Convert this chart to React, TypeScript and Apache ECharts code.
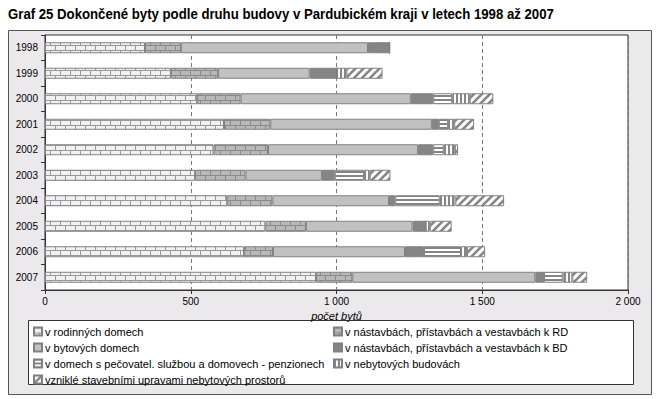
import React, { useEffect, useRef } from "react";
import * as echarts from "echarts";

const years = ["1998", "1999", "2000", "2001", "2002", "2003", "2004", "2005", "2006", "2007"];
const rodinne = [343, 432, 522, 614, 578, 515, 625, 756, 683, 930];
const nastavbyRD = [123, 162, 149, 159, 187, 173, 155, 139, 99, 124];
const bytove = [642, 314, 584, 554, 515, 262, 400, 366, 453, 628];
const nastavbyBD = [74, 94, 77, 24, 52, 44, 22, 45, 65, 30];
const pecovatel = [0, 0, 65, 32, 36, 100, 152, 0, 127, 64];
const nebytove = [0, 32, 60, 21, 38, 20, 54, 14, 21, 33];
const upravy = [0, 124, 81, 68, 11, 71, 167, 75, 62, 51];

const seriesNames = [
  "v rodinných domech",
  "v nástavbách, přístavbách a vestavbách k RD",
  "v bytových domech",
  "v nástavbách, přístavbách a vestavbách k BD",
  "v domech s pečovatel. službou a domovech - penzionech",
  "v nebytových budovách",
  "vzniklé stavebními upravami nebytových prostorů",
];

function makeCanvas(w: number, h: number, draw: (ctx: CanvasRenderingContext2D) => void) {
  const c = document.createElement("canvas");
  c.width = w;
  c.height = h;
  const ctx = c.getContext("2d")!;
  draw(ctx);
  return c;
}

function brick(bg: string, line: string) {
  const c = makeCanvas(10, 10, (ctx) => {
    ctx.fillStyle = bg;
    ctx.fillRect(0, 0, 10, 10);
    ctx.fillStyle = line;
    ctx.fillRect(0, 0, 10, 1);
    ctx.fillRect(0, 5, 10, 1);
    ctx.fillRect(0, 0, 1, 5);
    ctx.fillRect(5, 5, 1, 5);
  });
  return { image: c, repeat: "repeat", imageWidth: 10, imageHeight: 10 } as any;
}

function hStripes() {
  const c = makeCanvas(4, 4, (ctx) => {
    ctx.fillStyle = "#858585";
    ctx.fillRect(0, 0, 4, 4);
    ctx.fillStyle = "#ffffff";
    ctx.fillRect(0, 1, 4, 2);
  });
  return { image: c, repeat: "repeat", imageWidth: 4, imageHeight: 4 } as any;
}

function vStripes() {
  const c = makeCanvas(4, 4, (ctx) => {
    ctx.fillStyle = "#ffffff";
    ctx.fillRect(0, 0, 4, 4);
    ctx.fillStyle = "#858585";
    ctx.fillRect(0, 0, 2, 4);
  });
  return { image: c, repeat: "repeat", imageWidth: 4, imageHeight: 4 } as any;
}

function diag() {
  const s = 8;
  const c = makeCanvas(s, s, (ctx) => {
    ctx.fillStyle = "#ffffff";
    ctx.fillRect(0, 0, s, s);
    ctx.strokeStyle = "#858585";
    ctx.lineWidth = 2.6;
    ctx.beginPath();
    ctx.moveTo(-2, s + 2);
    ctx.lineTo(s + 2, -2);
    ctx.moveTo(-2, 2);
    ctx.lineTo(2, -2);
    ctx.moveTo(s - 2, s + 2);
    ctx.lineTo(s + 2, s - 2);
    ctx.stroke();
  });
  return { image: c, repeat: "repeat", imageWidth: s, imageHeight: s } as any;
}

export default function App() {
  const ref = useRef<HTMLDivElement>(null);
  useEffect(() => {
    if (!ref.current) return;
    const chart = echarts.init(ref.current, null, { renderer: "svg" });
    const colors = [
      brick("#f2f0f3", "#999999"),
      brick("#b8b7ba", "#8a8a8a"),
      "#c1c0c3",
      "#858585",
      hStripes(),
      vStripes(),
      diag(),
    ];
    const datas = [rodinne, nastavbyRD, bytove, nastavbyBD, pecovatel, nebytove, upravy];
    const font = "'Liberation Sans', Arial, sans-serif";
    const series = seriesNames.map((name, i) => ({
      name,
      type: "bar",
      stack: "total",
      data: datas[i],
      barWidth: 11,
      itemStyle: { color: colors[i], borderColor: "#808080", borderWidth: 1 },
      emphasis: { disabled: true },
    }));
    const legendCommon = {
      orient: "vertical",
      itemWidth: 8,
      itemHeight: 8,
      itemGap: 5,
      icon: "rect",
      selectedMode: false,
      textStyle: { fontSize: 11, color: "#000", fontFamily: font, padding: [0, 0, 0, -2] },
      padding: 0,
    };
    chart.setOption({
      animation: false,
      graphic: [
        {
          type: "rect",
          z: -10,
          silent: true,
          shape: { x: 8.5, y: 30.5, width: 643, height: 364 },
          style: { fill: "#ebe9ec", stroke: "#555555", lineWidth: 1 },
        },
        {
          type: "rect",
          z: -5,
          silent: true,
          shape: { x: 28.5, y: 320.5, width: 605, height: 64 },
          style: { fill: "#ffffff", stroke: "#333333", lineWidth: 1 },
        },
        {
          type: "text",
          x: 8,
          y: 6,
          scaleX: 0.88,
          style: {
            text: "Graf 25 Dokončené byty podle druhu budovy v Pardubickém kraji v letech 1998 až 2007",
            font: "bold 15px 'Liberation Sans', Arial, sans-serif",
            fill: "#000",
          },
        },
      ],
      legend: [
        {
          ...legendCommon,
          left: 33,
          top: 326,
          data: [seriesNames[0], seriesNames[2], seriesNames[4], seriesNames[6]],
        },
        {
          ...legendCommon,
          left: 333,
          top: 326,
          data: [seriesNames[1], seriesNames[3], seriesNames[5]],
        },
      ],
      grid: {
        left: 45,
        top: 35,
        width: 583,
        height: 255,
        show: true,
        backgroundColor: "#ffffff",
        borderColor: "#333333",
        borderWidth: 1,
      },
      xAxis: {
        type: "value",
        min: 0,
        max: 2000,
        interval: 500,
        name: "počet bytů",
        nameLocation: "middle",
        nameGap: 13,
        nameTextStyle: { fontStyle: "italic", fontSize: 11, color: "#000", fontFamily: font },
        axisLine: { show: true, lineStyle: { color: "#333333" } },
        axisTick: { show: true, length: 4, lineStyle: { color: "#333333" } },
        axisLabel: {
          fontSize: 10,
          color: "#000",
          fontFamily: font,
          margin: 6,
          formatter: (v: number) => (v >= 1000 ? Math.floor(v / 1000) + " " + String(v % 1000).padStart(3, "0") : String(v)),
        },
        splitLine: {
          show: true,
          lineStyle: { color: "#777777", type: [4, 3] },
        },
      },
      yAxis: {
        type: "category",
        data: years,
        inverse: true,
        axisLine: { show: true, lineStyle: { color: "#333333" } },
        axisTick: { show: true, length: 4, lineStyle: { color: "#333333" } },
        axisLabel: { fontSize: 10, color: "#000", fontFamily: font, margin: 7 },
      },
      series,
    });
    return () => chart.dispose();
  }, []);
  return (
    <div
      ref={ref}
      style={{ position: "absolute", left: 0, top: 0, width: 659, height: 399 }}
    />
  );
}
